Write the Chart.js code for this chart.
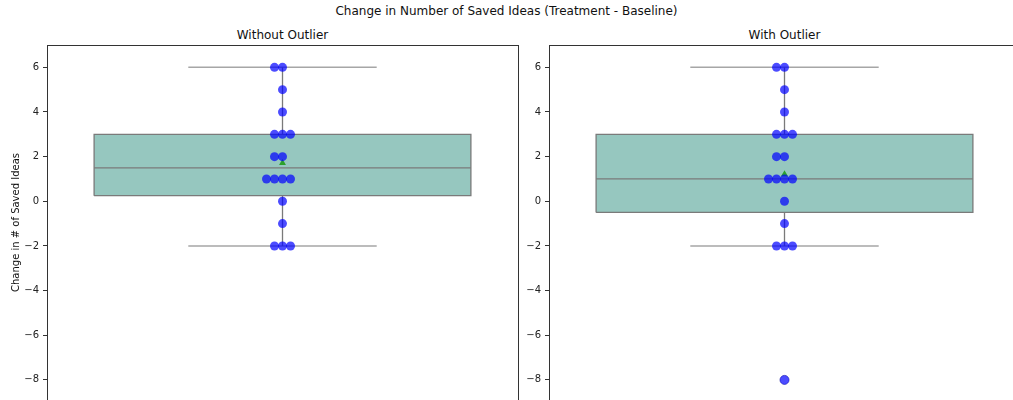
<!DOCTYPE html>
<html>
<head>
<meta charset="utf-8">
<script src="https://cdn.jsdelivr.net/npm/chart.js@4/dist/chart.umd.min.js"></script>
<style>
  body { margin: 0; width: 1013px; height: 400px; overflow: hidden; position: relative; background: #fff; font-family: 'DejaVu Sans', sans-serif; color: #111; }
  .title { position: absolute; text-align: center; font-size: 12px; white-space: nowrap; }
  canvas { position: absolute; top: 0; }
</style>
</head>
<body>
<div class="title" style="left:0;width:1013px;top:4px">Change in Number of Saved Ideas (Treatment - Baseline)</div>
<div class="title" id="t1" style="left:47px;width:471px;top:28px"></div>
<div class="title" id="t2" style="left:549px;width:471px;top:28px"></div>
<canvas id="c1" width="530" height="410" style="left:0"></canvas>
<canvas id="c2" width="530" height="410" style="left:502px"></canvas>
<script>
const categories = ['Without Outlier', 'With Outlier'];
const changeWithoutOutlier = [6, 6, 5, 4, 3, 3, 3, 2, 2, 1, 1, 1, 1, 0, -1, -2, -2, -2];
const changeWithOutlier = [6, 6, 5, 4, 3, 3, 3, 2, 2, 1, 1, 1, 1, 0, -1, -2, -2, -2, -8];
const q1Values = [0.25, -0.5];
const medianValues = [1.5, 1];
const q3Values = [3, 3];
const whiskerLow = [-2, -2];
const whiskerHigh = [6, 6];
const meanValues = [1.72, 1.21];
const outlierValues = [[], [-8]];
const yTicks = [-8, -6, -4, -2, 0, 2, 4, 6];
const yAxisTitle = 'Change in # of Saved Ideas';

const BOX_COLOR = '#96c7bf';
const LINE_GRAY = '#7a7a7a';
const POINT_COLOR = 'rgba(0, 0, 255, 0.7)';
const SWARM_STEP = 0.017;
const BOX_HALF = 0.4;
const CAP_HALF = 0.2;

// beeswarm-ish layout: centre first, then left, right, further left...
function swarm(values) {
  const seen = {};
  return values.map((v) => {
    const k = seen[v] || 0;
    seen[v] = k + 1;
    const side = k % 2 === 1 ? -1 : 1;
    const off = k === 0 ? 0 : side * Math.ceil(k / 2) * SWARM_STEP;
    return { x: off, y: v };
  });
}

const framePlugin = {
  id: 'frame',
  afterDraw(chart) {
    const { ctx, chartArea: a } = chart;
    ctx.save();
    ctx.strokeStyle = '#333';
    ctx.lineWidth = 1;
    ctx.strokeRect(Math.round(a.left) + 0.5, Math.round(a.top) + 0.5, Math.round(a.right - a.left), Math.round(a.bottom - a.top));
    ctx.restore();
  }
};

function line(points, color, width, order) {
  return {
    data: points, showLine: true, borderColor: color, borderWidth: width,
    pointRadius: 0, pointHoverRadius: 0, fill: false, order
  };
}

function makeChart(canvasId, i, values, showYTitle) {
  const q1 = q1Values[i], q3 = q3Values[i], med = medianValues[i];
  const lo = whiskerLow[i], hi = whiskerHigh[i];

  const datasets = [
    {
      label: 'points', data: swarm(values), backgroundColor: POINT_COLOR,
      pointRadius: 4.5, pointBorderWidth: 0, pointHoverRadius: 4.5, order: 0
    },
    {
      label: 'mean', data: [{ x: 0, y: meanValues[i] }], pointStyle: 'triangle',
      backgroundColor: '#2ca02c', borderColor: '#2ca02c', pointRadius: 4, pointBorderWidth: 0, order: 1
    },
    {
      label: 'fliers', data: outlierValues[i].map((v) => ({ x: 0, y: v })),
      backgroundColor: 'rgba(0,0,0,0)', borderColor: 'rgba(30,30,160,0.7)', pointRadius: 4.5, pointBorderWidth: 1, order: 2
    },
    line([{ x: -BOX_HALF, y: med }, { x: BOX_HALF, y: med }], LINE_GRAY, 1.3, 3),
    line([{ x: -BOX_HALF, y: q1 }, { x: -BOX_HALF, y: q3 }, { x: BOX_HALF, y: q3 }, { x: BOX_HALF, y: q1 }, { x: -BOX_HALF, y: q1 }], LINE_GRAY, 1.3, 4),
    line([{ x: 0, y: lo }, { x: 0, y: q1 }], LINE_GRAY, 1.3, 5),
    line([{ x: 0, y: q3 }, { x: 0, y: hi }], LINE_GRAY, 1.3, 5),
    line([{ x: -CAP_HALF, y: lo }, { x: CAP_HALF, y: lo }], '#a6a6a6', 1.5, 5),
    line([{ x: -CAP_HALF, y: hi }, { x: CAP_HALF, y: hi }], '#a6a6a6', 1.5, 5),
    {
      data: [{ x: -BOX_HALF, y: q3 }, { x: BOX_HALF, y: q3 }], showLine: true,
      borderWidth: 0, borderColor: 'rgba(0,0,0,0)', backgroundColor: BOX_COLOR,
      pointRadius: 0, fill: { target: { value: q1 } }, order: 6
    }
  ];

  document.getElementById(canvasId === 'c1' ? 't1' : 't2').textContent = categories[i];

  return new Chart(document.getElementById(canvasId), {
    type: 'scatter',
    data: { datasets },
    plugins: [framePlugin],
    options: {
      responsive: false,
      animation: false,
      layout: { padding: { top: 45, right: 12, bottom: 2, left: 0 } },
      plugins: { legend: { display: false }, tooltip: { enabled: false }, title: { display: false } },
      scales: {
        x: { type: 'linear', min: -0.5, max: 0.5, display: false },
        y: {
          type: 'linear', min: -8.9, max: 7,
          afterFit: (scale) => { scale.width = 47; },
          afterBuildTicks: (scale) => { scale.ticks = yTicks.map((v) => ({ value: v })); },
          border: { display: false },
          grid: { drawOnChartArea: false, drawTicks: true, tickLength: 4, tickColor: '#333' },
          ticks: {
            color: '#222', padding: 4, font: { family: 'DejaVu Sans', size: 10 },
            callback: (v) => String(v).replace('-', '\u2212')
          },
          title: {
            display: showYTitle, text: yAxisTitle, color: '#111',
            font: { family: 'DejaVu Sans', size: 10 }, padding: { top: 10, bottom: 0 }
          }
        }
      }
    }
  });
}

makeChart('c1', 0, changeWithoutOutlier, true);
makeChart('c2', 1, changeWithOutlier, false);
</script>
</body>
</html>
